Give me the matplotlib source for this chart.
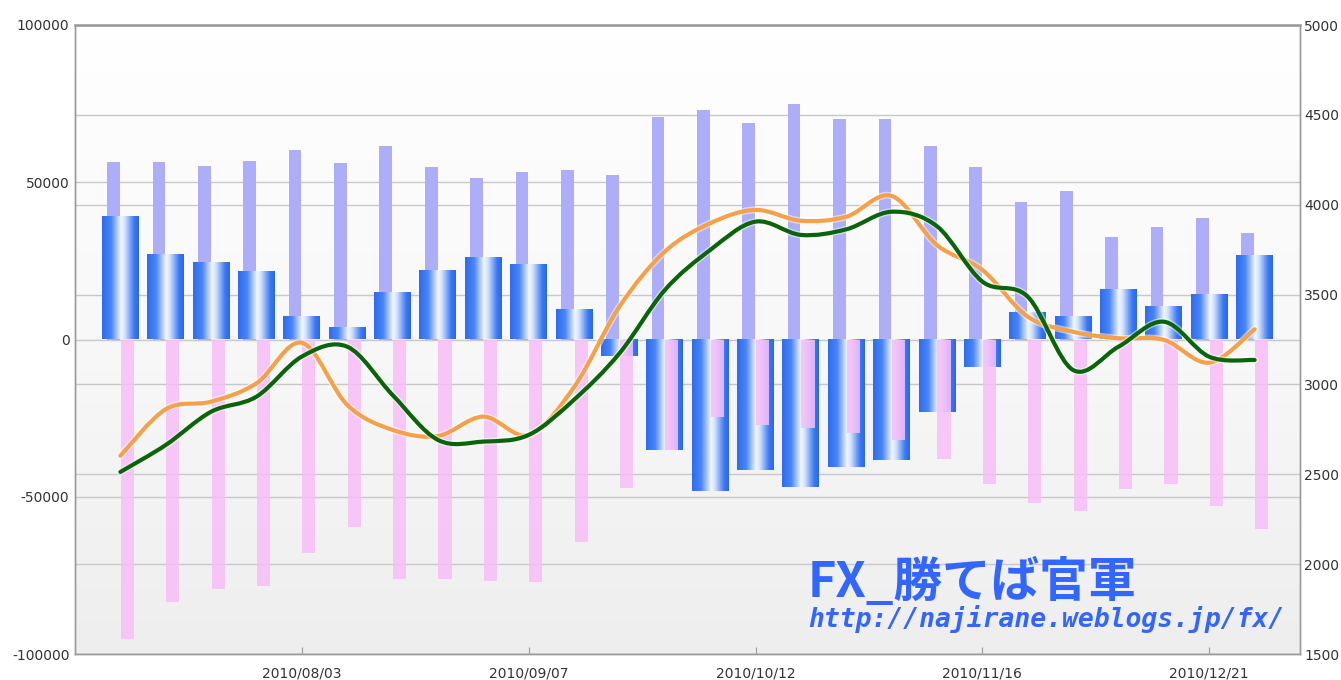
import numpy as np
import pandas as pd
import matplotlib
matplotlib.use('Agg')
import matplotlib.pyplot as plt
from matplotlib.colors import LinearSegmentedColormap
from matplotlib.path import Path
from matplotlib.patches import PathPatch
import matplotlib.patheffects as pe

plt.rcParams['axes.unicode_minus'] = False

# weekly data, 2010/07/06 .. 2010/12/28
weeks = pd.date_range('2010-07-06', periods=26, freq='7D')
tick_weeks = [4, 9, 14, 19, 24]

long_pos = [56300, 56400, 55200, 56800, 60300, 56000, 61500, 54800, 51300, 53300,
            54000, 52300, 70700, 73000, 68800, 75000, 70100, 70200, 61500, 54800,
            43600, 47200, 32600, 35700, 38500, 33800]
short_pos = [-95200, -83400, -79300, -78300, -67800, -59500, -76200, -76200, -76700, -77000,
             -64300, -47300, -35000, -24600, -27200, -28200, -29800, -31900, -38000, -46000,
             -52100, -54400, -47600, -46000, -52800, -60300]
net_pos = [38900, 27000, 24200, 21500, 7200, 3600, 14700, 21800, 25800, 23800,
           9400, -5100, -35200, -48300, -41500, -46800, -40400, -38300, -23200, -8600,
           8300, 7200, 15600, 10300, 14200, 26600]
green_line = [2513, 2663, 2848, 2932, 3155, 3210, 2941, 2691, 2682, 2719,
              2915, 3173, 3525, 3748, 3906, 3832, 3863, 3961, 3880, 3572,
              3488, 3080, 3210, 3349, 3154, 3136]
orange_line = [2603, 2862, 2904, 3006, 3232, 2886, 2747, 2713, 2821, 2719,
               2985, 3433, 3739, 3897, 3971, 3911, 3933, 4049, 3775, 3637,
               3377, 3293, 3257, 3248, 3121, 3307]


def smooth_path(xs, ys):
    # catmull-rom through the weekly points, drawn as bezier segments
    pts = np.column_stack([xs, ys]).astype(float)
    ext = np.vstack([pts[0], pts, pts[-1]])
    verts = [pts[0]]
    codes = [Path.MOVETO]
    for i in range(1, len(ext) - 2):
        p0, p1, p2, p3 = ext[i - 1], ext[i], ext[i + 1], ext[i + 2]
        verts += [p1 + (p2 - p0) / 6, p2 - (p3 - p1) / 6, p2]
        codes += [Path.CURVE4] * 3
    return Path(verts, codes)


x = np.arange(len(weeks))
grid_col = '#c8c8c8'
spine_col = '#9a9a9a'

fig = plt.figure(figsize=(13.41, 6.80), dpi=100)
rect = [75 / 1341, 26 / 680, 1225 / 1341, 629 / 680]

# background gradient + right axis grid
ax_bg = fig.add_axes(rect, zorder=0)
bg_cmap = LinearSegmentedColormap.from_list('bg', ['#eeeeee', '#f8f8f8', '#ffffff'])
ax_bg.imshow(np.linspace(1, 0, 256).reshape(-1, 1), extent=[0, 1, 1500, 5000],
             cmap=bg_cmap, aspect='auto')
ax_bg.set_xlim(0, 1)
ax_bg.set_ylim(1500, 5000)
ax_bg.set_yticks(np.arange(1500, 5001, 500))
ax_bg.set_xticks([])
ax_bg.grid(axis='y', color=grid_col, lw=1)
ax_bg.tick_params(length=0, labelleft=False, labelbottom=False)
for s in ax_bg.spines.values():
    s.set_visible(False)

# bars on left axis
ax = fig.add_axes(rect, zorder=1)
ax.patch.set_visible(False)
ax.set_axisbelow(True)
ax.bar(x - 0.15, long_pos, width=0.28, color='#adadf8', zorder=2)

bar_cmap = LinearSegmentedColormap.from_list(
    'bar', [(0, '#2e6cf0'), (0.25, '#4a86f4'), (0.52, '#f4f8ff'),
            (0.62, '#d2e2fc'), (0.88, '#3a78f2'), (1, '#2a68ee')])
grad_h = np.linspace(0, 1, 64).reshape(1, -1)
w = 0.815
for xi, v in zip(x, net_pos):
    ax.imshow(grad_h, extent=[xi - w / 2, xi + w / 2, 0, v], cmap=bar_cmap,
              aspect='auto', zorder=3, interpolation='bilinear')

ax.bar(x + 0.155, short_pos, width=0.29, color='#f8bef8', alpha=0.85, zorder=4)

ax.set_xlim(-1, 26)
ax.set_ylim(-100000, 100000)
ax.set_yticks([-100000, -50000, 0, 50000, 100000])
ax.grid(axis='y', color=grid_col, lw=1)
ax.set_xticks(tick_weeks)
ax.set_xticklabels([weeks[i].strftime('%Y/%m/%d') for i in tick_weeks])
ax.tick_params(axis='y', length=0, pad=4, labelsize=10, labelcolor='#333333')
ax.tick_params(axis='x', direction='in', length=5, color=spine_col, pad=9,
               labelsize=10, labelcolor='#333333')

# lines on right axis
ax2 = ax.twinx()
ax2.set_zorder(2)
ax2.patch.set_visible(False)
ax2.set_ylim(1500, 5000)
ax2.set_yticks(np.arange(1500, 5001, 500))
ax2.tick_params(axis='y', length=0, pad=3, labelsize=10, labelcolor='#333333')

for vals, col in [(orange_line, '#f5a04a'), (green_line, '#0a640a')]:
    patch = PathPatch(smooth_path(x, vals), fill=False, edgecolor=col, lw=3,
                      capstyle='round', joinstyle='round', zorder=5,
                      transform=ax2.transData)
    patch.set_path_effects([pe.Stroke(linewidth=5, foreground='#ffffff', alpha=0.5),
                            pe.Normal()])
    ax2.add_patch(patch)

for a in (ax, ax2):
    for s in a.spines.values():
        s.set_color(spine_col)
        s.set_linewidth(1)
ax.spines['top'].set_linewidth(2)
ax.spines['top'].set_color('#aaaaaa')

# watermark
fig.text(808 / 1341, 1 - 597 / 680, 'FX_勝てば官軍', fontsize=35, color='#3366ff',
         fontweight='bold', family=['Noto Sans CJK JP', 'DejaVu Sans'],
         va='baseline', zorder=10)
fig.text(808 / 1341, 1 - 627 / 680, 'http://najirane.weblogs.jp/fx/', fontsize=19,
         color='#3366ff', fontweight='bold', style='italic', family='DejaVu Sans Mono',
         va='baseline', zorder=10)

fig.savefig('out.png', dpi=100)
